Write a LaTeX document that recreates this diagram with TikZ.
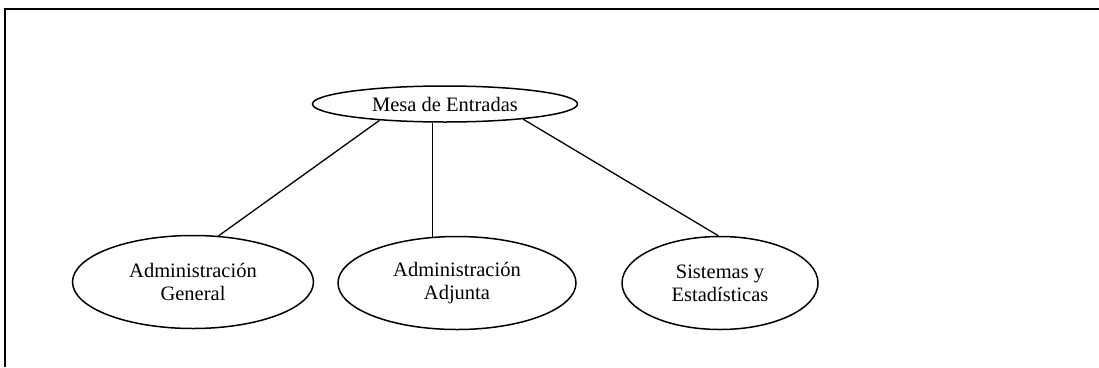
\documentclass[tikz,border=0pt]{standalone}
\usepackage{fontspec}
\setmainfont{Liberation Serif}
\usetikzlibrary{shapes.geometric}
\tikzset{
  unit/.style={draw, ellipse, line width=1.5pt, inner sep=0pt, align=center,
    font=\fontsize{20.5}{23}\selectfont},
  link/.style={line width=1.3pt},
  frame/.style={line width=1.8pt}
}
\begin{document}
\begin{tikzpicture}[x=1pt,y=-1pt]
\useasboundingbox (0,0) rectangle (1099,367);
\coordinate (ftr) at (1099,9);
\coordinate (ftl) at (5,9);
\coordinate (fbl) at (5,367);
\draw[frame] (ftr) -- (ftl) -- (fbl);

\node[unit, minimum width=265pt, minimum height=36pt] (mesa) at (445,104) {Mesa de Entradas};
\node[unit, minimum width=241pt, minimum height=93pt] (gen) at (193,282) {Administración\\General};
\node[unit, minimum width=238pt, minimum height=93pt] (adj) at (457,283) {Administración\\Adjunta};
\node[unit, minimum width=196pt, minimum height=93pt] (sis) at (720,283) {Sistemas y\\Estadísticas};

\draw[link] (mesa.194.6) -- (gen.61.7);
\draw[link] (adj.118.1) -- (adj.118.1 |- mesa.south);
\draw[link] (mesa.349) -- (sis.92);
\end{tikzpicture}
\end{document}
